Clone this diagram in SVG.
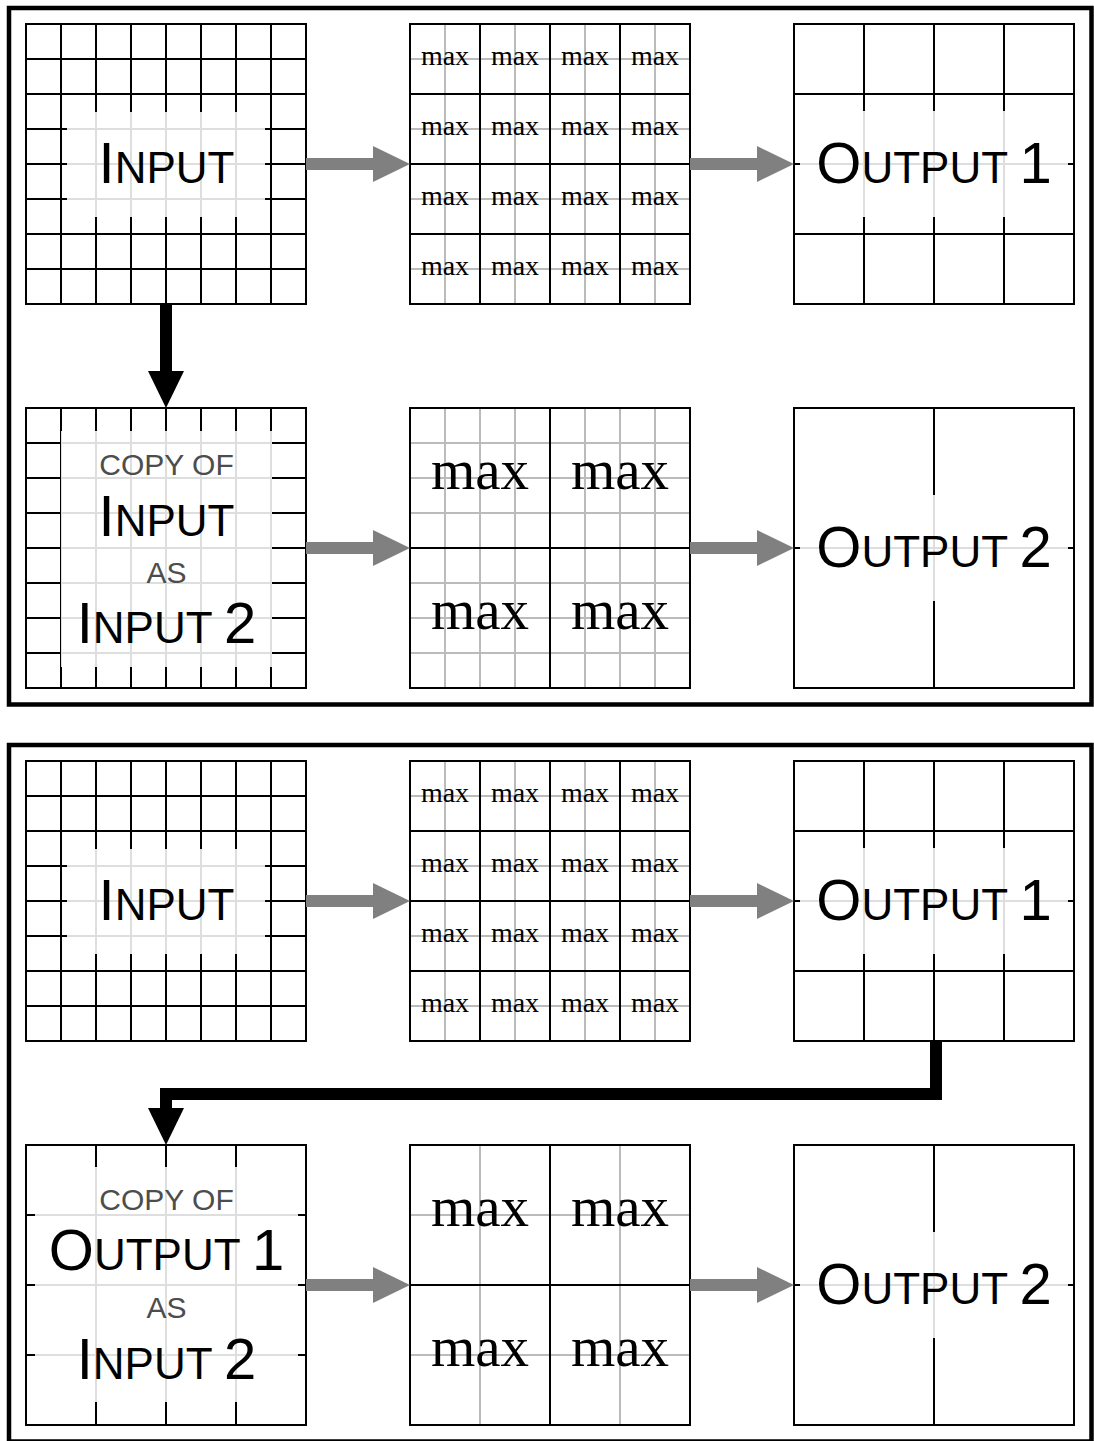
<svg xmlns="http://www.w3.org/2000/svg" xmlns:xlink="http://www.w3.org/1999/xlink" width="1094" height="1441" viewBox="0 0 1094 1441">
<style>
.blk{fill:none;stroke:#000;stroke-width:2}
.gry{fill:none;stroke:#bbb;stroke-width:2}
.panel{fill:none;stroke:#000;stroke-width:4.5}
.lbl{fill:#fff;fill-opacity:0.87;stroke:none}
.sans{font-family:"Liberation Sans",Arial,sans-serif;fill:#000}
.B{font-size:58px}
.S{font-size:44px}
.sm{font-size:30px;fill:#4d4d4d}
.mx{font-family:"Liberation Serif","Times New Roman",serif;fill:#000;text-anchor:middle}
.ms{font-size:28px}
.ml{font-size:57px}
.garr{fill:none;stroke:#808080;stroke-width:12}
.barr{fill:none;stroke:#000;stroke-width:12;stroke-linejoin:miter}
</style>
<defs>
<path id="g8" class="blk" d="M0 0H280V280H0Z M35 0V280 M70 0V280 M105 0V280 M140 0V280 M175 0V280 M210 0V280 M245 0V280 M0 35H280 M0 70H280 M0 105H280 M0 140H280 M0 175H280 M0 210H280 M0 245H280"/>
<path id="g4" class="blk" d="M0 0H280V280H0Z M70 0V280 M140 0V280 M210 0V280 M0 70H280 M0 140H280 M0 210H280"/>
<path id="g2" class="blk" d="M0 0H280V280H0Z M140 0V280 M0 140H280"/>
<path id="s8" class="gry" d="M35 0V280 M70 0V280 M105 0V280 M140 0V280 M175 0V280 M210 0V280 M245 0V280 M0 35H280 M0 70H280 M0 105H280 M0 140H280 M0 175H280 M0 210H280 M0 245H280"/>
<path id="s4" class="gry" d="M70 0V280 M140 0V280 M210 0V280 M0 70H280 M0 140H280 M0 210H280"/>
<marker id="hg" markerUnits="userSpaceOnUse" markerWidth="37" markerHeight="36" refX="0" refY="18" orient="auto" overflow="visible">
<path d="M0 0L37 18L0 36Z" fill="#808080"/>
</marker>
<marker id="hb" markerUnits="userSpaceOnUse" markerWidth="37" markerHeight="36" refX="0" refY="18" orient="auto" overflow="visible">
<path d="M0 0L37 18L0 36Z" fill="#000"/>
</marker>
</defs>
<rect width="1094" height="1441" fill="#fff"/>
<rect class="panel" x="9" y="8" width="1082.5" height="696.5"/>
<rect class="panel" x="9" y="745" width="1082.5" height="696.5"/>

<!-- ===== Top panel ===== -->
<g id="input-a">
<use href="#g8" x="26" y="24"/>
<rect class="lbl" x="67" y="112" width="198" height="105"/>
<text class="sans" x="166.5" y="183" text-anchor="middle"><tspan class="B">I</tspan><tspan class="S">NPUT</tspan></text>
</g>
<g id="pool1-a">
<use href="#s8" x="410" y="24"/>
<use href="#g4" x="410" y="24"/>
<g class="mx ms">
<text x="445" y="65">max</text><text x="515" y="65">max</text><text x="585" y="65">max</text><text x="655" y="65">max</text>
<text x="445" y="135">max</text><text x="515" y="135">max</text><text x="585" y="135">max</text><text x="655" y="135">max</text>
<text x="445" y="205">max</text><text x="515" y="205">max</text><text x="585" y="205">max</text><text x="655" y="205">max</text>
<text x="445" y="275">max</text><text x="515" y="275">max</text><text x="585" y="275">max</text><text x="655" y="275">max</text>
</g>
</g>
<g id="output1-a">
<use href="#g4" x="794" y="24"/>
<rect class="lbl" x="800" y="111" width="268" height="106"/>
<text class="sans" x="934" y="183" text-anchor="middle"><tspan class="B">O</tspan><tspan class="S">UTPUT </tspan><tspan class="B">1</tspan></text>
</g>
<g id="input2-a">
<use href="#g8" x="26" y="408"/>
<rect class="lbl" x="61" y="431" width="211" height="236"/>
<text class="sans sm" x="166.5" y="475" text-anchor="middle">COPY OF</text>
<text class="sans" x="166.5" y="536" text-anchor="middle"><tspan class="B">I</tspan><tspan class="S">NPUT</tspan></text>
<text class="sans sm" x="166.5" y="583" text-anchor="middle">AS</text>
<text class="sans" x="166.5" y="643" text-anchor="middle"><tspan class="B">I</tspan><tspan class="S">NPUT </tspan><tspan class="B">2</tspan></text>
</g>
<g id="pool2-a">
<use href="#s8" x="410" y="408"/>
<use href="#g2" x="410" y="408"/>
<g class="mx ml">
<text x="480" y="489">max</text><text x="620" y="489">max</text>
<text x="480" y="629">max</text><text x="620" y="629">max</text>
</g>
</g>
<g id="output2-a">
<use href="#g2" x="794" y="408"/>
<rect class="lbl" x="800" y="495" width="268" height="106"/>
<text class="sans" x="934" y="567" text-anchor="middle"><tspan class="B">O</tspan><tspan class="S">UTPUT </tspan><tspan class="B">2</tspan></text>
</g>

<!-- ===== Bottom panel ===== -->
<g id="input-b">
<use href="#g8" x="26" y="761"/>
<rect class="lbl" x="67" y="849" width="198" height="105"/>
<text class="sans" x="166.5" y="920" text-anchor="middle"><tspan class="B">I</tspan><tspan class="S">NPUT</tspan></text>
</g>
<g id="pool1-b">
<use href="#s8" x="410" y="761"/>
<use href="#g4" x="410" y="761"/>
<g class="mx ms">
<text x="445" y="802">max</text><text x="515" y="802">max</text><text x="585" y="802">max</text><text x="655" y="802">max</text>
<text x="445" y="872">max</text><text x="515" y="872">max</text><text x="585" y="872">max</text><text x="655" y="872">max</text>
<text x="445" y="942">max</text><text x="515" y="942">max</text><text x="585" y="942">max</text><text x="655" y="942">max</text>
<text x="445" y="1012">max</text><text x="515" y="1012">max</text><text x="585" y="1012">max</text><text x="655" y="1012">max</text>
</g>
</g>
<g id="output1-b">
<use href="#g4" x="794" y="761"/>
<rect class="lbl" x="800" y="848" width="268" height="106"/>
<text class="sans" x="934" y="920" text-anchor="middle"><tspan class="B">O</tspan><tspan class="S">UTPUT </tspan><tspan class="B">1</tspan></text>
</g>
<g id="input2-b">
<use href="#g4" x="26" y="1145"/>
<rect class="lbl" x="35" y="1167" width="263" height="235"/>
<text class="sans sm" x="166.5" y="1210" text-anchor="middle">COPY OF</text>
<text class="sans" x="166.5" y="1270" text-anchor="middle"><tspan class="B">O</tspan><tspan class="S">UTPUT </tspan><tspan class="B">1</tspan></text>
<text class="sans sm" x="166.5" y="1318" text-anchor="middle">AS</text>
<text class="sans" x="166.5" y="1379" text-anchor="middle"><tspan class="B">I</tspan><tspan class="S">NPUT </tspan><tspan class="B">2</tspan></text>
</g>
<g id="pool2-b">
<use href="#s4" x="410" y="1145"/>
<use href="#g2" x="410" y="1145"/>
<g class="mx ml">
<text x="480" y="1226">max</text><text x="620" y="1226">max</text>
<text x="480" y="1366">max</text><text x="620" y="1366">max</text>
</g>
</g>
<g id="output2-b">
<use href="#g2" x="794" y="1145"/>
<rect class="lbl" x="800" y="1232" width="268" height="106"/>
<text class="sans" x="934" y="1304" text-anchor="middle"><tspan class="B">O</tspan><tspan class="S">UTPUT </tspan><tspan class="B">2</tspan></text>
</g>

<!-- ===== Connectors ===== -->
<g id="connectors">
<path class="garr" d="M306 164H373" marker-end="url(#hg)"/>
<path class="garr" d="M690 164H757" marker-end="url(#hg)"/>
<path class="garr" d="M306 548H373" marker-end="url(#hg)"/>
<path class="garr" d="M690 548H757" marker-end="url(#hg)"/>
<path class="barr" d="M166 304V371" marker-end="url(#hb)"/>
<path class="garr" d="M306 901H373" marker-end="url(#hg)"/>
<path class="garr" d="M690 901H757" marker-end="url(#hg)"/>
<path class="garr" d="M306 1285H373" marker-end="url(#hg)"/>
<path class="garr" d="M690 1285H757" marker-end="url(#hg)"/>
<path class="barr" d="M936 1041V1094H166V1108" marker-end="url(#hb)"/>
</g>
</svg>
